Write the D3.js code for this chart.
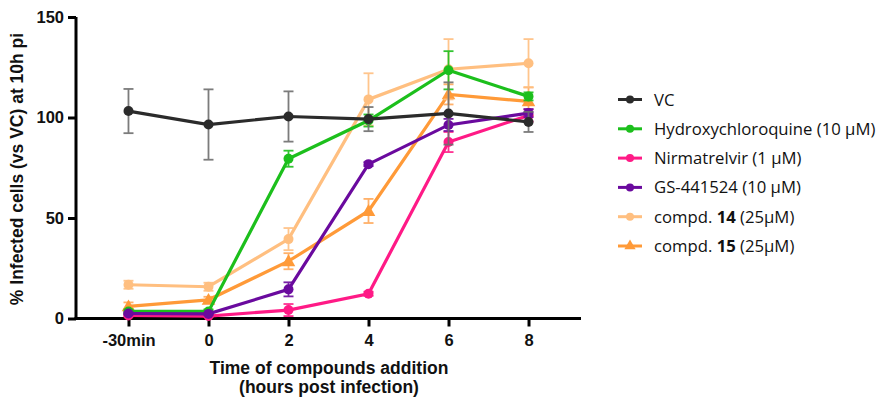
<!DOCTYPE html>
<html>
<head>
<meta charset="utf-8">
<script src="https://cdn.jsdelivr.net/npm/d3@7"></script>
<style>
  body { margin: 0; background: #fff; }
  .axis text { font-family: "Liberation Sans", Arial, sans-serif; font-weight: bold; font-size: 16.5px; fill: #111; }
  .title { font-family: "Liberation Sans", Arial, sans-serif; font-weight: bold; font-size: 17.5px; fill: #111; }
  .legend text { font-family: "Open Sans", "Noto Sans", sans-serif; font-size: 16.7px; fill: #111; }
</style>
</head>
<body>
<svg width="880" height="398"></svg>
<script>
// categories on the x axis
const timepoints = ['-30min', '0', '2', '4', '6', '8'];
const yTicks = [0, 50, 100, 150];

// series (mean and sd per timepoint)
const seriesNames = ['VC', 'Hydroxychloroquine (10 µM)', 'Nirmatrelvir (1 µM)', 'GS-441524 (10 µM)', 'compd. 14 (25µM)', 'compd. 15 (25µM)'];
const colors = ['#2b2b2b', '#1cbf1c', '#ff1a86', '#6a0a9e', '#ffbf80', '#ff9a38'];
const errColors = ['#6e6e6e', '#1cbf1c', '#ff1a86', '#6a0a9e', '#ffbf80', '#ffa95a'];
const shapes = ['circle', 'circle', 'circle', 'circle', 'circle', 'triangle'];

const vcMean   = [103.2, 96.5, 100.5, 99.2, 102.0, 97.8];
const vcSd     = [11, 17.5, 12.5, 6, 15.5, 5];
const hcqMean  = [3.5, 3.5, 79.5, 98.5, 123.5, 110.5];
const hcqSd    = [1, 1, 4, 3, 9.5, 2];
const nirMean  = [1.5, 1.2, 4.2, 12.3, 87.8, 101.0];
const nirSd    = [0.5, 0.5, 3, 1, 5, 3];
const gsMean   = [2.5, 2.3, 14.5, 76.8, 96.3, 102.2];
const gsSd     = [0.5, 0.5, 3.5, 1, 3, 2];
const c14Mean  = [16.8, 15.8, 39.5, 109.0, 124.0, 127.0];
const c14Sd    = [2, 2, 5.5, 13, 15, 12];
const c15Mean  = [6.0, 9.3, 28.5, 53.5, 111.5, 108.0];
const c15Sd    = [2, 1.5, 4, 6, 5, 7];

const means = [vcMean, hcqMean, nirMean, gsMean, c14Mean, c15Mean];
const sds = [vcSd, hcqSd, nirSd, gsSd, c14Sd, c15Sd];
// order in which the series are painted (last on top)
const drawOrder = [5, 4, 2, 1, 3, 0];

const svg = d3.select('svg');
const plotL = 76, plotR = 581, plotT = 17, plotB = 318.5;

const x = d3.scalePoint().domain(timepoints).range([plotL, plotR]).padding(0.656);
const y = d3.scaleLinear().domain([0, 150]).range([plotB, plotT]);

// axes
const xAxis = svg.append('g').attr('class', 'axis')
  .attr('transform', `translate(0,${plotB})`)
  .call(d3.axisBottom(x).tickSize(8).tickPadding(8).tickSizeOuter(0));
const yAxis = svg.append('g').attr('class', 'axis')
  .attr('transform', `translate(${plotL},0)`)
  .call(d3.axisLeft(y).tickValues(yTicks).tickSize(8).tickPadding(4).tickSizeOuter(0));
svg.selectAll('.axis path, .axis line').attr('stroke', '#000').attr('stroke-width', 3);
xAxis.select('.domain').attr('d', `M${plotL - 1.5},0H${plotR}`);
yAxis.select('.domain').attr('d', `M0,${plotT}V${plotB + 1.5}`);

// axis titles
svg.append('text').attr('class', 'title')
  .attr('x', 329).attr('y', 374).attr('text-anchor', 'middle')
  .text('Time of compounds addition');
svg.append('text').attr('class', 'title')
  .attr('x', 329).attr('y', 393).attr('text-anchor', 'middle')
  .text('(hours post infection)');
svg.append('text').attr('class', 'title')
  .attr('transform', 'translate(23,169) rotate(-90)').attr('text-anchor', 'middle')
  .text('%  Infected cells (vs VC) at 10h pi');

const line = d3.line().x((d, i) => x(timepoints[i])).y(d => y(d));
const tri = d3.symbol().type(d3.symbolTriangle).size(80);

drawOrder.forEach(s => {
  const g = svg.append('g');
  const pts = means[s].map((m, i) => ({ t: timepoints[i], m, sd: sds[s][i] }));

  // error bars
  const eb = g.selectAll('g.err').data(pts).enter().append('g')
    .attr('stroke', errColors[s]).attr('stroke-width', 1.8).attr('opacity', 0.9);
  eb.append('line')
    .attr('x1', d => x(d.t)).attr('x2', d => x(d.t))
    .attr('y1', d => y(d.m + d.sd)).attr('y2', d => y(d.m - d.sd));
  eb.append('line')
    .attr('x1', d => x(d.t) - 5).attr('x2', d => x(d.t) + 5)
    .attr('y1', d => y(d.m + d.sd)).attr('y2', d => y(d.m + d.sd));
  eb.append('line')
    .attr('x1', d => x(d.t) - 5).attr('x2', d => x(d.t) + 5)
    .attr('y1', d => y(d.m - d.sd)).attr('y2', d => y(d.m - d.sd));

  g.append('path').attr('d', line(means[s]))
    .attr('fill', 'none').attr('stroke', colors[s]).attr('stroke-width', 3.2);

  if (shapes[s] === 'triangle') {
    g.selectAll('path.mk').data(pts).enter().append('path')
      .attr('transform', d => `translate(${x(d.t)},${y(d.m) + 1})`)
      .attr('d', tri).attr('fill', colors[s]);
  } else {
    g.selectAll('circle').data(pts).enter().append('circle')
      .attr('cx', d => x(d.t)).attr('cy', d => y(d.m)).attr('r', 5)
      .attr('fill', colors[s]);
  }
});

// legend
const legend = svg.append('g').attr('class', 'legend');
seriesNames.forEach((name, i) => {
  const ly = 99.5 + i * 29.3;
  const row = legend.append('g');
  row.append('line').attr('x1', 618).attr('x2', 642).attr('y1', ly).attr('y2', ly)
    .attr('stroke', colors[i]).attr('stroke-width', 3);
  if (shapes[i] === 'triangle') {
    row.append('path').attr('transform', `translate(630,${ly})`)
      .attr('d', d3.symbol().type(d3.symbolTriangle).size(55)).attr('fill', colors[i]);
  } else {
    row.append('circle').attr('cx', 630).attr('cy', ly).attr('r', 4).attr('fill', colors[i]);
  }
  const t = row.append('text').attr('x', 654).attr('y', ly + 6);
  const m = name.match(/^(compd\. )(\d+)( .*)$/);
  if (m) {
    t.append('tspan').text(m[1]);
    t.append('tspan').attr('font-weight', 'bold').text(m[2]);
    t.append('tspan').text(m[3]);
  } else {
    t.text(name);
  }
});
</script>
</body>
</html>
